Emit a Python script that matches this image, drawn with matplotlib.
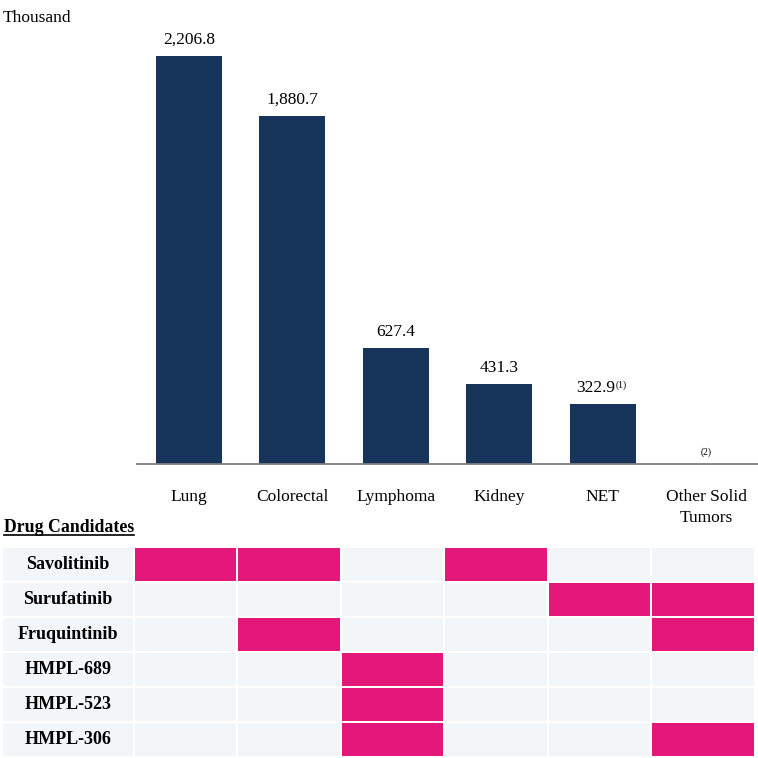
import matplotlib
matplotlib.use("Agg")
import matplotlib.pyplot as plt

plt.rcParams['font.family'] = ['Liberation Serif', 'DejaVu Serif']

# data
categories = ['Lung', 'Colorectal', 'Lymphoma', 'Kidney', 'NET', 'Other Solid\nTumors']
values = [2206.8, 1880.7, 627.4, 431.3, 322.9, None]
value_notes = [None, None, None, None, '(1)', '(2)']

drugs = ['Savolitinib', 'Surufatinib', 'Fruquintinib', 'HMPL-689', 'HMPL-523', 'HMPL-306']
# which indications each drug candidate covers (1 = yes)
coverage = [
    [1, 1, 0, 1, 0, 0],
    [0, 0, 0, 0, 1, 1],
    [0, 1, 0, 0, 0, 1],
    [0, 0, 1, 0, 0, 0],
    [0, 0, 1, 0, 0, 0],
    [0, 0, 1, 0, 0, 1],
]

NAVY = '#17345B'
PINK = '#E4187A'
CELL = '#F3F6F9'
AXIS = '#7F7F7F'
FS = 12.5

W, H = 758, 758
fig = plt.figure(figsize=(W / 100, H / 100), dpi=100)

# ---- bar chart ----
ax = fig.add_axes([137 / W, 1 - 464 / H, 621 / W, 434 / H])
x = list(range(len(categories)))
for i, v in enumerate(values):
    if v is None:
        continue
    ax.bar(i, v, width=0.64, color=NAVY)
ax.set_xlim(-0.5, 5.5)
ax.set_ylim(0, 2347)
for s in ['top', 'right', 'left']:
    ax.spines[s].set_visible(False)
ax.spines['bottom'].set_color(AXIS)
ax.spines['bottom'].set_linewidth(1.3)
ax.set_yticks([])
ax.set_xticks(x)
ax.set_xticklabels(categories, fontsize=FS, linespacing=1.4, va='top')
ax.tick_params(axis='x', length=0, pad=18)

for i, v in enumerate(values):
    if v is not None:
        t = ax.annotate(f'{v:,.1f}', xy=(i, v), xytext=(0 if value_notes[i] is None else -5, 6),
                        textcoords='offset points', ha='center', va='bottom', fontsize=FS)
        if value_notes[i]:
            ax.annotate(value_notes[i], xy=(1.0, 1.0), xycoords=t, ha='left', va='top',
                        fontsize=7)
    elif value_notes[i]:
        ax.annotate(value_notes[i], xy=(i, 0), xytext=(0, 5), textcoords='offset points',
                    ha='center', va='bottom', fontsize=7)

fig.text(3 / W, 1 - 18 / H, 'Thousand', ha='left', va='center', fontsize=FS)

# ---- drug candidate table ----
x0 = -1.775
tx = fig.add_axes([3 / W, 1 - 757 / H, 755 / W, 210 / H])
tx.set_xlim(x0, 5.52)
tx.set_ylim(5.5, -0.5)
tx.axis('off')
gx, gy = 0.02, 0.06
lab_w = -0.5 - x0 - gx
for r, drug in enumerate(drugs):
    tx.barh(r, lab_w, left=x0, height=1 - gy, color=CELL)
    tx.text(x0 + lab_w / 2, r, drug, ha='center', va='center',
            fontsize=13, fontweight='bold')
    for c, on in enumerate(coverage[r]):
        tx.barh(r, 1 - gx, left=c - 0.5, height=1 - gy,
                color=PINK if on else CELL)

hdr = fig.text(4 / W, 1 - 528 / H, 'Drug Candidates', ha='left', va='center',
               fontsize=12.8, fontweight='bold')
fig.canvas.draw()
bb = hdr.get_window_extent().transformed(fig.transFigure.inverted())
fig.add_artist(plt.Line2D([bb.x0, bb.x1], [bb.y0 + 1.5 / H, bb.y0 + 1.5 / H],
                          transform=fig.transFigure, color='black', lw=1.2))

fig.savefig('out.png', dpi=100)
